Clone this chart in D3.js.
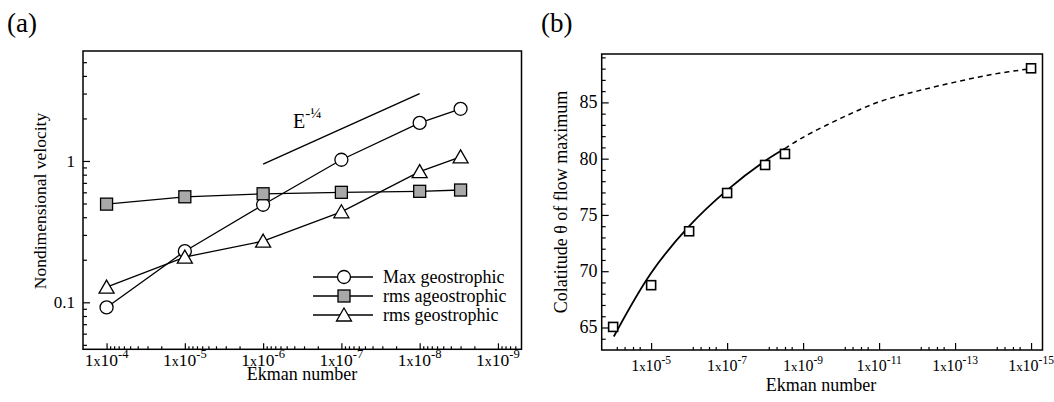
<!DOCTYPE html>
<html>
<head>
<meta charset="UTF-8">
<script src="https://d3js.org/d3.v7.min.js"></script>
<style>
  body { margin: 0; background: #fff; }
  svg { display: block; font-family: "Liberation Serif", "Times New Roman", serif; }
</style>
</head>
<body>
<svg width="1054" height="402"></svg>
<script>
// ---- panel (a) data ----
const ekmanA = [1e-4, 1e-5, 1e-6, 1e-7, 1e-8, 3e-9];
const maxGeo = [0.092, 0.23, 0.49, 1.02, 1.86, 2.34];
const rmsAgeo = [0.495, 0.558, 0.586, 0.60, 0.61, 0.623];
const rmsGeo = [0.128, 0.209, 0.271, 0.437, 0.84, 1.07];
const slopeE = [1e-6, 1e-8];
const slopeV = [0.95, 3.0];
const legendA = ["Max geostrophic", "rms ageostrophic", "rms geostrophic"];
const xTicksA = [1e-4, 1e-5, 1e-6, 1e-7, 1e-8, 1e-9];
const xExpA = ["-4", "-5", "-6", "-7", "-8", "-9"];
const yTicksA = [0.1, 1];
const yLabelsA = ["0.1", "1"];

// ---- panel (b) data ----
const ekmanB = [1e-4, 1e-5, 1e-6, 1e-7, 1e-8, 3e-9, 1e-15];
const colat = [65.05, 68.76, 73.55, 76.95, 79.44, 80.42, 88.03];
const fitSolidE = [9.6e-5, 1e-5, 1e-6, 1e-7, 1e-8, 3e-9];
const fitSolid = [64.2, 69.85, 74.0, 77.2, 79.8, 80.9];
const fitDashE = [3e-9, 1e-9, 1e-10, 1e-11, 1e-12, 1e-13, 1e-14, 1e-15];
const fitDash = [80.9, 81.9, 83.6, 85.05, 86.0, 86.8, 87.5, 88.0];
const xTicksB = [1e-5, 1e-7, 1e-9, 1e-11, 1e-13, 1e-15];
const xExpB = ["-5", "-7", "-9", "-11", "-13", "-15"];
const yTicksB = [65, 70, 75, 80, 85];

const svg = d3.select("svg");

function tickLayer(g, axisFn, scale, values, size) {
  g.call(axisFn(scale).tickValues(values).tickSize(-size).tickFormat(""))
    .call(s => s.select(".domain").remove())
    .selectAll("line").attr("stroke-width", 1.2);
}

function powLabels(g, scale, values, exps, y, size) {
  g.selectAll("text").data(values).join("text")
    .attr("x", d => scale(d)).attr("y", y)
    .attr("text-anchor", "middle").attr("font-size", size)
    .each(function(d, i) {
      const t = d3.select(this);
      t.append("tspan").text("1");
      t.append("tspan").attr("font-size", size * 0.8).text("x");
      t.append("tspan").text("10");
      t.append("tspan").attr("font-size", size * 0.72).attr("dy", -size * 0.42).text(exps[i]);
    });
}

function marker(g, type, x, y) {
  if (type === "circle") {
    g.append("circle").attr("cx", x).attr("cy", y).attr("r", 6.5)
      .attr("fill", "#fff").attr("stroke", "#000").attr("stroke-width", 1.3);
  } else if (type === "square") {
    g.append("rect").attr("x", x - 6).attr("y", y - 6).attr("width", 12).attr("height", 12)
      .attr("fill", "#a9a9a9").attr("stroke", "#000").attr("stroke-width", 1.3);
  } else {
    g.append("path").attr("d", `M${x},${y - 7}L${x + 7.5},${y + 6}L${x - 7.5},${y + 6}Z`)
      .attr("fill", "#fff").attr("stroke", "#000").attr("stroke-width", 1.3);
  }
}

// ================= panel (a) =================
const xA = d3.scaleLog().domain([2e-4, 5e-10]).range([83, 521.5]);
const yA = d3.scaleLog().domain([0.0465, 6]).range([349.3, 51]);
const gA = svg.append("g");

const minorXA = [];
for (let k = -10; k <= -4; k++) for (let m = 2; m <= 9; m++) {
  const v = m * Math.pow(10, k);
  if (v < 2e-4 && v > 5e-10) minorXA.push(v);
}
const minorYA = [];
for (let k = -2; k <= 0; k++) for (let m = 2; m <= 9; m++) {
  const v = m * Math.pow(10, k);
  if (v > 0.0465 && v < 6) minorYA.push(v);
}

gA.append("g").attr("transform", "translate(0,349.3)").call(tickLayer, d3.axisBottom, xA, xTicksA.filter(d => d > 5e-10), 6);
gA.append("g").attr("transform", "translate(0,349.3)").call(tickLayer, d3.axisBottom, xA, minorXA, 3);
gA.append("g").attr("transform", "translate(83,0)").call(tickLayer, d3.axisLeft, yA, yTicksA, 7);
gA.append("g").attr("transform", "translate(83,0)").call(tickLayer, d3.axisLeft, yA, minorYA, 4);

gA.append("rect").attr("x", 83).attr("y", 51).attr("width", 438.5).attr("height", 298.3)
  .attr("fill", "none").attr("stroke", "#000").attr("stroke-width", 1.5);

powLabels(gA.append("g"), xA, xTicksA, xExpA, 365.5, 17.5);
gA.append("g").selectAll("text").data(yTicksA).join("text")
  .attr("x", 75).attr("y", d => yA(d) + 6).attr("text-anchor", "end")
  .attr("font-size", 17).text((d, i) => yLabelsA[i]);

gA.append("text").attr("x", 302).attr("y", 380).attr("text-anchor", "middle")
  .attr("font-size", 18).text("Ekman number");
gA.append("text").attr("transform", "translate(46,201) rotate(-90)").attr("text-anchor", "middle")
  .attr("font-size", 17.5).text("Nondimensional velocity");
gA.append("text").attr("x", 7).attr("y", 31.5).attr("font-size", 27).text("(a)");

const lineA = d3.line().x(d => xA(d[0])).y(d => yA(d[1]));
const seriesA = [
  { vals: maxGeo, type: "circle" },
  { vals: rmsAgeo, type: "square" },
  { vals: rmsGeo, type: "triangle" }
];
seriesA.forEach(s => {
  gA.append("path").attr("d", lineA(ekmanA.map((e, i) => [e, s.vals[i]])))
    .attr("fill", "none").attr("stroke", "#000").attr("stroke-width", 1.3);
});
seriesA.forEach(s => {
  ekmanA.forEach((e, i) => marker(gA, s.type, xA(e), yA(s.vals[i])));
});

gA.append("path").attr("d", lineA(slopeE.map((e, i) => [e, slopeV[i]])))
  .attr("fill", "none").attr("stroke", "#000").attr("stroke-width", 1.4);
const eLab = gA.append("text").attr("x", 293).attr("y", 128).attr("font-size", 20);
eLab.append("tspan").text("E");
eLab.append("tspan").attr("font-size", 15).attr("dy", -10).text("-¼");

const legA = gA.append("g");
legendA.forEach((lab, i) => {
  const y = 277 + i * 19;
  legA.append("line").attr("x1", 313).attr("x2", 373).attr("y1", y).attr("y2", y)
    .attr("stroke", "#000").attr("stroke-width", 1.3);
  marker(legA, seriesA[i].type, 344, y);
  legA.append("text").attr("x", 383).attr("y", y + 6).attr("font-size", 18).text(lab);
});

// ================= panel (b) =================
const xB = d3.scaleLog().domain([2e-4, 5e-16]).range([601.7, 1042.5]);
const yB = d3.scaleLinear().domain([63, 89.3]).range([350, 54]);
const gB = svg.append("g");

const minorXB = [];
for (let k = -15; k <= -5; k += 2) [2, 3, 5, 8].forEach(m => minorXB.push(m * Math.pow(10, k)));
const minorYB = d3.range(64, 90, 1).filter(v => v % 5 !== 0);

gB.append("g").attr("transform", "translate(0,350)").call(tickLayer, d3.axisBottom, xB, xTicksB, 7);
gB.append("g").attr("transform", "translate(0,350)").call(tickLayer, d3.axisBottom, xB, minorXB, 3);
gB.append("g").attr("transform", "translate(601.7,0)").call(tickLayer, d3.axisLeft, yB, yTicksB, 7);
gB.append("g").attr("transform", "translate(601.7,0)").call(tickLayer, d3.axisLeft, yB, minorYB, 4);

gB.append("rect").attr("x", 601.7).attr("y", 54).attr("width", 440.8).attr("height", 296)
  .attr("fill", "none").attr("stroke", "#000").attr("stroke-width", 1.5);

powLabels(gB.append("g"), xB, xTicksB, xExpB, 370.5, 16);
gB.append("g").selectAll("text").data(yTicksB).join("text")
  .attr("x", 597.5).attr("y", d => yB(d) + 6).attr("text-anchor", "end")
  .attr("font-size", 18).text(d => d);

gB.append("text").attr("x", 821).attr("y", 391).attr("text-anchor", "middle")
  .attr("font-size", 18).text("Ekman number");
gB.append("text").attr("transform", "translate(567,202) rotate(-90)").attr("text-anchor", "middle")
  .attr("font-size", 18).text("Colatitude θ of flow maximum");
gB.append("text").attr("x", 541).attr("y", 31.5).attr("font-size", 27).text("(b)");

const lineB = d3.line().x(d => xB(d[0])).y(d => yB(d[1])).curve(d3.curveCatmullRom);
gB.append("path").attr("d", lineB(fitSolidE.map((e, i) => [e, fitSolid[i]])))
  .attr("fill", "none").attr("stroke", "#000").attr("stroke-width", 1.8);
gB.append("path").attr("d", lineB(fitDashE.map((e, i) => [e, fitDash[i]])))
  .attr("fill", "none").attr("stroke", "#000").attr("stroke-width", 1.5)
  .attr("stroke-dasharray", "5,4");

gB.append("g").selectAll("rect").data(ekmanB).join("rect")
  .attr("x", d => xB(d) - 4.5).attr("y", (d, i) => yB(colat[i]) - 4.5)
  .attr("width", 9).attr("height", 9)
  .attr("fill", "#fff").attr("stroke", "#000").attr("stroke-width", 1.6);
</script>
</body>
</html>
